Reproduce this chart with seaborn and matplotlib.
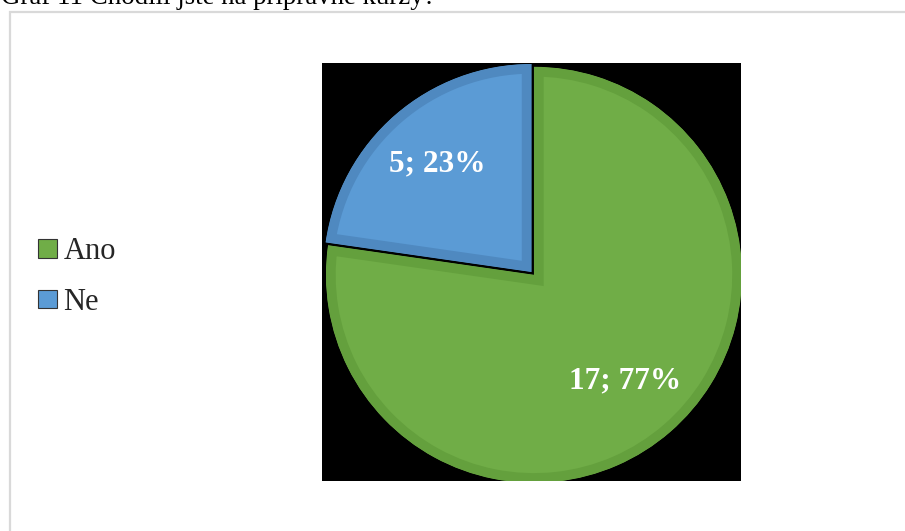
import matplotlib
matplotlib.use("Agg")
import numpy as np
import matplotlib.pyplot as plt
from matplotlib.patches import Patch, Rectangle
import seaborn as sns

# Survey answers
categories = ["Ano", "Ne"]
counts = [17, 5]
percents = [77, 23]
title = "Graf 11 Chodili jste na přípravné kurzy?"

fill_colors = ["#70ad47", "#5b9bd5"]
edge_colors = ["#64a03d", "#4f89c0"]
explode = [0.018, 0.0]

sns.set_style("white")
plt.rcParams["font.family"] = ["Liberation Serif", "DejaVu Serif"]

W, H = 905, 531
fig = plt.figure(figsize=(W / 100, H / 100), dpi=100)
fig.patch.set_facecolor("white")

# Chart frame (light grey border running off the page)
fig.patches.append(Rectangle((9.5 / W, -0.2), 1.5, 1.2 - 12 / H,
                             transform=fig.transFigure, fill=False,
                             edgecolor="#d9d9d9", linewidth=1.6))

fig.text(1 / W, 1 - 4 / H, title, fontsize=19.4, va="baseline", ha="left",
         color="black")

# Plot area with black fill
ax = fig.add_axes([322 / W, 1 - 481 / H, 419 / W, 418 / H])

wedges, _ = ax.pie(counts, startangle=90, counterclock=False,
                   colors=fill_colors, explode=explode, radius=1.0,
                   wedgeprops=dict(linewidth=14, edgecolor="none"))
for w, ec in zip(wedges, edge_colors):
    w.set_edgecolor(ec)
    w.set_clip_on(True)
    w.set_clip_path(w)   # keep the darker rim inside each slice

# value labels along each slice's bisector
labels_txt = [f"{c}; {p}%" for c, p in zip(counts, percents)]
for w, txt in zip(wedges, labels_txt):
    ang = np.deg2rad((w.theta1 + w.theta2) / 2)
    r = 0.69
    ax.text(r * np.cos(ang), r * np.sin(ang), txt,
            ha="center", va="center", color="white", fontsize=22.5,
            fontweight="bold")

ax.set_frame_on(True)
ax.set_facecolor("black")
half_w = 419 / 2 / 208
half_h = 418 / 2 / 208
ax.set_xlim(-half_w, half_w)
ax.set_ylim(-half_h, half_h)
ax.set_aspect("auto")
ax.set_xticks([])
ax.set_yticks([])
for s in ax.spines.values():
    s.set_visible(False)

handles = [Patch(facecolor=fc, edgecolor="#333333", linewidth=0.8)
           for fc in fill_colors]
fig.legend(handles, categories, loc="center left",
           bbox_to_anchor=(26 / W, 1 - 277 / H), frameon=False,
           fontsize=22, handlelength=0.62, handleheight=0.56,
           handletextpad=0.2, labelspacing=0.70, borderaxespad=0)

fig.savefig("out.png", dpi=100, facecolor="white")
